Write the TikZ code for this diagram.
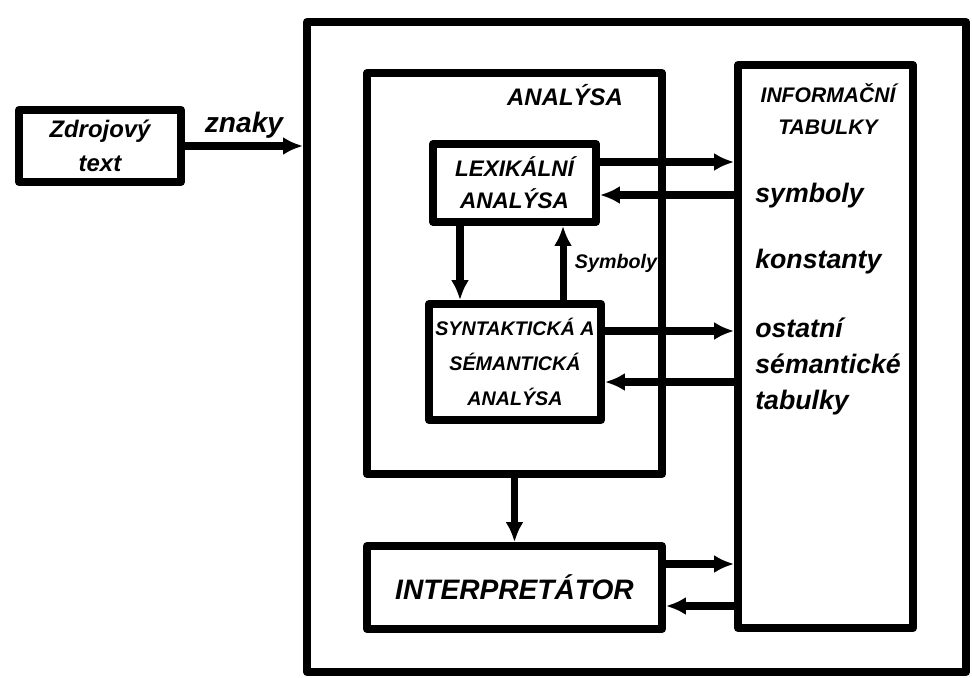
\documentclass[tikz,border=0pt]{standalone}
\usepackage{fontspec}
\setsansfont{Liberation Sans}
\usetikzlibrary{arrows.meta,positioning}
\tikzset{
  blok/.style={draw,line width=5.5pt,inner sep=0pt,align=center},
  pismo/.style 2 args={font=\sffamily\bfseries\itshape\fontsize{#1}{#2}\selectfont},
  spoj/.style={line width=5pt,-{Latex[length=5mm,width=4.5mm]}},
  every picture/.style={line cap=round,line join=round}
}
\begin{document}
\begin{tikzpicture}[x=0.025cm,y=-0.025cm]
  \useasboundingbox (0,0) rectangle (972,677);
  \node[blok,minimum width=16.475cm,minimum height=16.25cm] (system) at (636.5,347) {};
  \node[blok,minimum width=4.05cm,minimum height=1.8cm,pismo={17}{24}] (zdroj) at (100,146) {Zdrojový\\text};
  \node[blok,minimum width=7.375cm,minimum height=10.025cm] (analysa) at (514.5,273.5) {};
  \node[inner sep=0pt,pismo={17}{24}] (analysaNadpis) at (565,95) {ANALÝSA};
  \node[blok,minimum width=4.075cm,minimum height=1.95cm,pismo={16}{22.8}] (lex) at (514.5,183) {LEXIKÁLNÍ\\ANALÝSA};
  \node[blok,minimum width=4.3cm,minimum height=2.9cm,pismo={14}{25}] (syn) at (515,362) {SYNTAKTICKÁ A\\SÉMANTICKÁ\\ANALÝSA};
  \node[blok,minimum width=7.375cm,minimum height=2.075cm,pismo={20}{24}] (interp) at (514.5,587.5) {INTERPRETÁTOR};
  \node[blok,minimum width=4.375cm,minimum height=14.075cm] (info) at (825.5,346.5) {};
  \node[inner sep=0pt,align=center,pismo={15}{22.8}] (infoNadpis) at (828,109) {INFORMAČNÍ\\TABULKY};
  \node[inner sep=0pt,anchor=west,pismo={19}{24}] (symboly) at (755,196) {symboly};
  \node[inner sep=0pt,anchor=west,pismo={19}{24}] (konstanty) at (755,262) {konstanty};
  \node[inner sep=0pt,anchor=west,align=left,pismo={19}{25.6}] (ostatni) at (755,366) {ostatní\\sémantické\\tabulky};

  \draw[spoj] (zdroj.east) -- node[inner sep=0pt,above=3pt,pismo={20}{24}] (znaky) {znaky} (zdroj.east -| system.west);
  \draw[spoj] ([xshift=-1.3625cm]lex.south) -- ([xshift=-1.3625cm]lex.south |- syn.north);
  \draw[spoj] ([xshift=1.2125cm]lex.south |- syn.north) -- node[inner sep=0pt,right=6pt,pismo={14}{18}] (symbolyPopis) {Symboly} ([xshift=1.2125cm]lex.south);
  \draw[spoj] ([yshift=0.525cm]lex.east) -- ([yshift=0.525cm]lex.east -| info.west);
  \draw[spoj] ([yshift=-0.3cm]lex.east -| info.west) -- ([yshift=-0.3cm]lex.east);
  \draw[spoj] ([yshift=0.775cm]syn.east) -- ([yshift=0.775cm]syn.east -| info.west);
  \draw[spoj] ([yshift=-0.5cm]syn.east -| info.west) -- ([yshift=-0.5cm]syn.east);
  \draw[spoj] (analysa.south) -- (interp.north);
  \draw[spoj] ([yshift=0.5875cm]interp.east) -- ([yshift=0.5875cm]interp.east -| info.west);
  \draw[spoj] ([yshift=-0.4625cm]interp.east -| info.west) -- ([yshift=-0.4625cm]interp.east);
\end{tikzpicture}
\end{document}
